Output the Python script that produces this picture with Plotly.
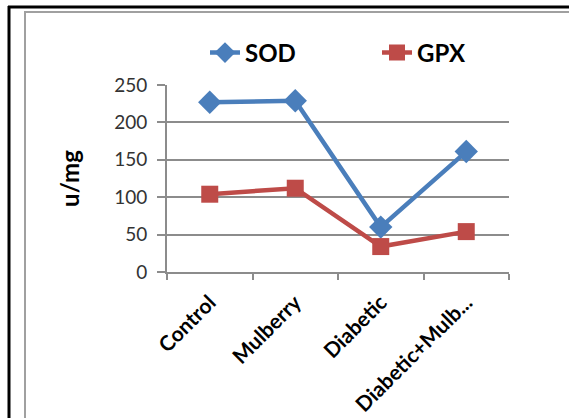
import plotly.graph_objects as go

categories = ["Control", "Mulberry", "Diabetic", "Diabetic+Mulb..."]
sod = [227, 229, 60, 161]
gpx = [104, 112, 34, 54]
y_ticks = [0, 50, 100, 150, 200, 250]

W, H = 569, 418
L, R, T, B = 167, 509, 85, 272

def px(x):
    return (x - L) / (R - L)

def py(y):
    return (B - y) / (B - T)

fig = go.Figure()
fig.add_trace(go.Scatter(
    x=categories, y=sod, name="SOD", mode="lines+markers",
    line=dict(color="#4A7EBB", width=4.5),
    marker=dict(symbol="diamond", size=18, color="#4A7EBB"),
))
fig.add_trace(go.Scatter(
    x=categories, y=gpx, name="GPX", mode="lines+markers",
    line=dict(color="#BE4B48", width=4.5),
    marker=dict(symbol="square", size=17, color="#BE4B48"),
))

shapes = [
    dict(type="line", xref="paper", yref="paper", x0=px(8), x1=px(580), y0=py(7), y1=py(7),
         line=dict(color="black", width=3)),
    dict(type="line", xref="paper", yref="paper", x0=px(9), x1=px(9), y0=py(6), y1=py(430),
         line=dict(color="black", width=3)),
    dict(type="line", xref="paper", yref="paper", x0=px(24), x1=px(580), y0=py(12), y1=py(12),
         line=dict(color="#A0A0A0", width=2)),
    dict(type="line", xref="paper", yref="paper", x0=px(25), x1=px(25), y0=py(12), y1=py(430),
         line=dict(color="#A0A0A0", width=2)),
]

fig.update_layout(
    template="none",
    width=W, height=H,
    margin=dict(l=L, r=W - R, t=T, b=H - B, pad=0),
    paper_bgcolor="white", plot_bgcolor="white",
    font=dict(family="Lato, Open Sans, sans-serif", color="#333333"),
    showlegend=True,
    legend=dict(orientation="h", x=px(205), y=py(53), xanchor="left", yanchor="middle",
                font=dict(size=24, color="black", family="Lato, sans-serif", weight="bold"),
                entrywidth=127, entrywidthmode="pixels", bgcolor="rgba(0,0,0,0)",
                borderwidth=0),
    xaxis=dict(
        type="category", range=[-0.5, 3.5], tickson="boundaries", automargin=False,
        ticks="outside", ticklen=6, tickcolor="#8C8C8C", tickwidth=2,
        showline=True, linecolor="#8C8C8C", linewidth=2,
        showgrid=False, tickangle=-45, ticklabelstandoff=8,
        tickfont=dict(size=21, color="black", weight="bold"),
    ),
    yaxis=dict(
        range=[0, 250], tickvals=y_ticks, automargin=False,
        ticks="outside", ticklen=8, tickcolor="#8C8C8C", tickwidth=2,
        showline=True, linecolor="#8C8C8C", linewidth=2,
        showgrid=True, gridcolor="#8C8C8C", gridwidth=2,
        zeroline=False, ticklabelstandoff=6,
        tickfont=dict(size=19, color="#333333"),
        title=dict(text="u/mg", font=dict(size=24, color="black", weight="bold"), standoff=28),
    ),
    shapes=shapes,
)

fig.write_html("out.html", config={"displayModeBar": False},
               post_script="document.body.style.margin='0';")
